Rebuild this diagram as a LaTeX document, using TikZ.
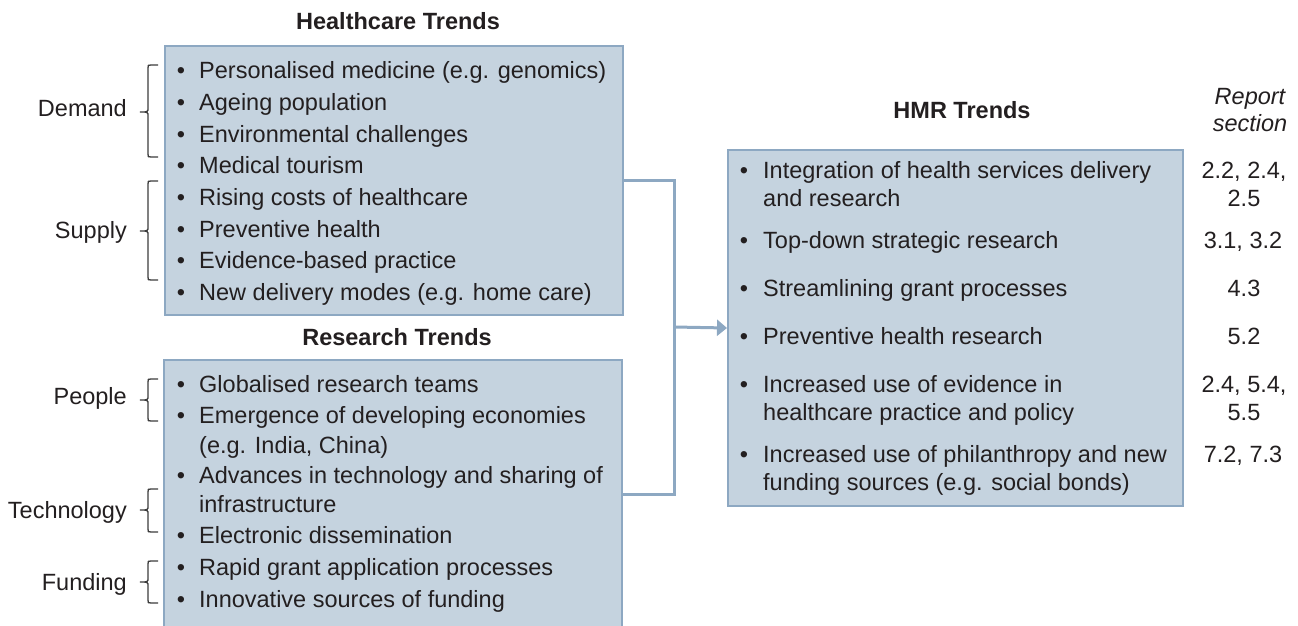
\documentclass[tikz,border=0pt]{standalone}
\usepackage{fontspec}
\setmainfont{Liberation Sans}
\usetikzlibrary{arrows.meta}
\definecolor{boxfill}{RGB}{197,211,223}
\definecolor{boxline}{RGB}{141,168,194}
\definecolor{ink}{RGB}{35,31,32}
\definecolor{brc}{RGB}{60,60,60}
\tikzset{
  trendbox/.style={draw=boxline, fill=boxfill, line width=2pt, inner sep=0pt, anchor=north west},
  txt/.style={inner sep=0pt, anchor=base west, text=ink, font=\fontsize{23.5}{28}\selectfont},
  bul/.style={inner sep=0pt, anchor=base, text=ink, font=\fontsize{23.5}{28}\selectfont},
  num/.style={inner sep=0pt, anchor=base, text=ink, font=\fontsize{23.5}{28}\selectfont},
  ttl/.style={inner sep=0pt, anchor=base, text=ink, font=\fontsize{23.5}{28}\selectfont\bfseries},
  lbl/.style={inner sep=0pt, anchor=base east, text=ink, font=\fontsize{23.5}{28}\selectfont},
  brace/.style={draw=brc, line width=1.3pt},
  conn/.style={draw=boxline, line width=3pt},
}
\newcommand\brc[3]{% top, mid, bottom
  \draw[brace] (158,#1) -- (151,#1) .. controls (148,#1) .. (148,#1+3) -- (148,#2-4)
     .. controls (148,#2) .. (140,#2) .. controls (148,#2) .. (148,#2+4) -- (148,#3-3)
     .. controls (148,#3) .. (151,#3) -- (158,#3);}
\begin{document}
\begin{tikzpicture}[x=1pt,y=-1pt]
\useasboundingbox (0,0) rectangle (1298,626);
\clip (0,0) rectangle (1298,626);
% boxes
\node[trendbox, minimum width=458pt, minimum height=269pt] (hc) at (164,45) {};
\node[trendbox, minimum width=458pt, minimum height=268pt] (rt) at (163,359) {};
\node[trendbox, minimum width=455pt, minimum height=356pt] (hmr) at (727,149) {};
% connectors
\coordinate (j) at (674,327);
\draw[conn] (hc.east) -| (j) |- (rt.east);
\draw[conn, -{Triangle[length=10pt,width=16pt]}] (j) -- (hmr.west);
% titles
\node[ttl] (t1) at (398,30) {Healthcare Trends};
\node[ttl] (t2) at (397,345) {Research Trends};
\node[ttl] (t3) at (962,118) {HMR Trends};
\node[num, font=\fontsize{23.5}{28}\selectfont\itshape] (rs1) at (1250,104) {Report};
\node[num, font=\fontsize{23.5}{28}\selectfont\itshape] (rs2) at (1250,131) {section};
% healthcare items
\foreach \n/\y/\t in {1/78/Personalised medicine (e.g. genomics), 2/110/Ageing population, 3/142/Environmental challenges, 4/173/Medical tourism, 5/205/Rising costs of healthcare, 6/237/Preventive health, 7/268/Evidence-based practice, 8/300/New delivery modes (e.g. home care)}{
  \node[bul] (hb\n) at (181,\y) {•};
  \node[txt] (ht\n) at (199,\y) {\t};
}
% research items
\foreach \n/\y/\t in {1/392/Globalised research teams, 2/423/Emergence of developing economies, 3/483/Advances in technology and sharing of, 4/543/Electronic dissemination, 5/575/Rapid grant application processes, 6/607/Innovative sources of funding}{
  \node[bul] (rb\n) at (181,\y) {•};
  \node[txt] (rt\n) at (199,\y) {\t};
}
\node[txt] (rt2b) at (199,453) {(e.g. India, China)};
\node[txt] (rt3b) at (199,512) {infrastructure};
% HMR items
\foreach \n/\y/\t in {1/178/Integration of health services delivery, 2/248/Top-down strategic research, 3/296/Streamlining grant processes, 4/344/Preventive health research, 5/392/Increased use of evidence in, 6/462/Increased use of philanthropy and new}{
  \node[bul] (mb\n) at (744,\y) {•};
  \node[txt] (mt\n) at (763,\y) {\t};
}
\node[txt] (mt1b) at (763,206) {and research};
\node[txt] (mt5b) at (763,420) {healthcare practice and policy};
\node[txt] (mt6b) at (763,490) {funding sources (e.g. social bonds)};
% report sections
\node[num] (n1) at (1244,178) {2.2, 2.4,};
\node[num] (n1b) at (1244,206) {2.5};
\node[num] (n2) at (1243,248) {3.1, 3.2};
\node[num] (n3) at (1244,296) {4.3};
\node[num] (n4) at (1244,344) {5.2};
\node[num] (n5) at (1244,392) {2.4, 5.4,};
\node[num] (n5b) at (1244,420) {5.5};
\node[num] (n6) at (1243,462) {7.2, 7.3};
% left labels and braces
\node[lbl] (ld) at (127,116) {Demand};
\node[lbl] (ls) at (127,238) {Supply};
\node[lbl] (lp) at (127,404) {People};
\node[lbl] (lt) at (127,518) {Technology};
\node[lbl] (lf) at (127,590) {Funding};
\brc{65}{112}{157}
\brc{181}{231}{280}
\brc{379}{400}{421}
\brc{489}{510}{532}
\brc{561}{582}{603}
\end{tikzpicture}
\end{document}
